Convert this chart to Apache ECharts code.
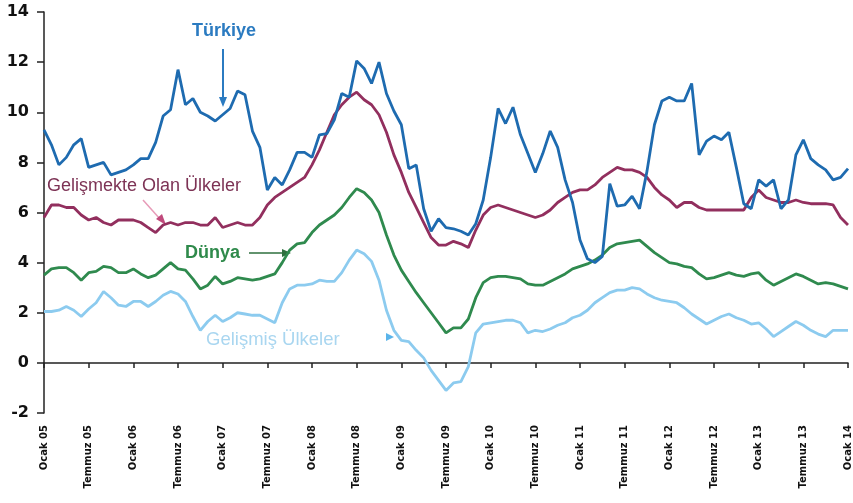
<!DOCTYPE html>
<html lang="tr">

<head>
  <meta charset="UTF-8">
  <title>Enflasyon</title>
  <script src="https://cdn.jsdelivr.net/npm/echarts@6/dist/echarts.min.js"></script>
  <style>
    * {
      padding: 0;
      margin: 0;
    }

    #box {
      width: 853px;
      height: 503px;
      background: #fff;
    }
  </style>
</head>

<body>
  <div id="box"></div>
  <script>
    // aylik veriler, Ocak 05 - Ocak 14
    var turkiye = [
      9.3, 8.7, 7.9, 8.2, 8.7, 8.95, 7.8, 7.9, 8.0, 7.5, 7.6, 7.7,
      7.9, 8.15, 8.15, 8.8, 9.85, 10.1, 11.7, 10.3, 10.55, 10.0, 9.85, 9.65,
      9.9, 10.15, 10.85, 10.7, 9.25, 8.6, 6.9, 7.4, 7.1, 7.7, 8.4, 8.4,
      8.2, 9.1, 9.15, 9.7, 10.75, 10.6, 12.05, 11.75, 11.15, 12.0, 10.75, 10.05,
      9.5, 7.75, 7.9, 6.15, 5.25, 5.75, 5.4, 5.35, 5.25, 5.1, 5.55, 6.5,
      8.2, 10.15, 9.55, 10.2, 9.1, 8.35, 7.6, 8.35, 9.25, 8.6, 7.3, 6.4,
      4.9, 4.15, 4.0, 4.25, 7.15, 6.25, 6.3, 6.65, 6.15, 7.65, 9.5, 10.45,
      10.6, 10.45, 10.45, 11.15, 8.3, 8.85, 9.05, 8.9, 9.2, 7.8, 6.35, 6.15,
      7.3, 7.05, 7.3, 6.15, 6.5, 8.3, 8.9, 8.15, 7.9, 7.7, 7.3, 7.4,
      7.75
    ]
    var gelismekte = [
      5.8, 6.3, 6.3, 6.2, 6.2, 5.9, 5.7, 5.8, 5.6, 5.5, 5.7, 5.7,
      5.7, 5.6, 5.4, 5.2, 5.5, 5.6, 5.5, 5.6, 5.6, 5.5, 5.5, 5.8,
      5.4, 5.5, 5.6, 5.5, 5.5, 5.8, 6.3, 6.6, 6.8, 7.0, 7.2, 7.4,
      7.9, 8.5, 9.2, 9.9, 10.3, 10.6, 10.8, 10.5, 10.3, 9.9, 9.2, 8.3,
      7.6, 6.8, 6.2, 5.6, 5.0, 4.7, 4.7, 4.85, 4.75, 4.6, 5.3, 5.9,
      6.2, 6.3, 6.2, 6.1, 6.0, 5.9, 5.8, 5.9, 6.1, 6.4, 6.6, 6.8,
      6.9, 6.9, 7.1, 7.4, 7.6, 7.8, 7.7, 7.7, 7.6, 7.4, 7.0, 6.7,
      6.5, 6.2, 6.4, 6.4, 6.2, 6.1, 6.1, 6.1, 6.1, 6.1, 6.1, 6.6,
      6.9, 6.6, 6.5, 6.4, 6.4, 6.5, 6.4, 6.35, 6.35, 6.35, 6.3, 5.8,
      5.5
    ]
    var dunya = [
      3.5, 3.75, 3.8, 3.8, 3.6, 3.3, 3.6, 3.65, 3.85, 3.8, 3.6, 3.6,
      3.75, 3.55, 3.4, 3.5, 3.75, 4.0, 3.75, 3.7, 3.35, 2.95, 3.1, 3.45,
      3.15, 3.25, 3.4, 3.35, 3.3, 3.35, 3.45, 3.55, 4.0, 4.5, 4.75, 4.8,
      5.2, 5.5, 5.7, 5.9, 6.2, 6.6, 6.95, 6.8, 6.5, 6.0, 5.1, 4.3,
      3.7, 3.25, 2.8, 2.4, 2.0, 1.6, 1.2, 1.4, 1.4, 1.75, 2.6, 3.2,
      3.4, 3.45, 3.45, 3.4, 3.35, 3.15, 3.1, 3.1, 3.25, 3.4, 3.55, 3.75,
      3.85, 3.95, 4.1, 4.3, 4.6, 4.75, 4.8, 4.85, 4.9, 4.65, 4.4, 4.2,
      4.0, 3.95, 3.85, 3.8, 3.55, 3.35, 3.4, 3.5, 3.6, 3.5, 3.45, 3.55,
      3.6, 3.3, 3.1, 3.25, 3.4, 3.55, 3.45, 3.3, 3.15, 3.2, 3.15, 3.05,
      2.95
    ]
    var gelismis = [
      2.05, 2.05, 2.1, 2.25, 2.1, 1.85, 2.15, 2.4, 2.85, 2.6, 2.3, 2.25,
      2.45, 2.45, 2.25, 2.45, 2.7, 2.85, 2.75, 2.45, 1.85, 1.3, 1.65, 1.9,
      1.65, 1.8, 2.0, 1.95, 1.9, 1.9, 1.75, 1.6, 2.4, 2.95, 3.1, 3.1,
      3.15, 3.3, 3.25, 3.25, 3.6, 4.1, 4.5, 4.35, 4.05, 3.3, 2.1, 1.3,
      0.9, 0.85, 0.5, 0.2, -0.3, -0.7, -1.1, -0.8, -0.75, -0.15, 1.2, 1.55,
      1.6, 1.65, 1.7, 1.7, 1.6, 1.2, 1.3, 1.25, 1.35, 1.5, 1.6, 1.8,
      1.9, 2.1, 2.4, 2.6, 2.8, 2.9, 2.9, 3.0, 2.95, 2.75, 2.6, 2.5,
      2.45, 2.4, 2.2, 1.95, 1.75, 1.55, 1.7, 1.85, 1.95, 1.8, 1.7, 1.55,
      1.6, 1.35, 1.05, 1.25, 1.45, 1.65, 1.5, 1.3, 1.15, 1.05, 1.3, 1.3,
      1.3
    ]

    // ay etiketleri: sadece Ocak ve Temmuz yazilir
    var aylar = []
    for (let i = 0; i < turkiye.length; i++) {
      let yil = String(5 + Math.floor(i / 12)).padStart(2, '0')
      let ay = i % 12
      aylar.push(ay === 0 ? 'Ocak ' + yil : (ay === 6 ? 'Temmuz ' + yil : ''))
    }

    var renkler = {
      turkiye: '#1e6bb0',
      gelismekte: '#922f5e',
      dunya: '#2f8a4e',
      gelismis: '#8ccbef'
    }

    var mCharts = echarts.init(document.getElementById('box'))

    var every6 = function (i) { return i % 6 === 0 }

    var option = {
      backgroundColor: '#fff',
      animation: false,
      grid: {
        left: 44,
        right: 2,
        top: 12,
        bottom: 90
      },
      xAxis: [{
        type: 'category',
        data: aylar,
        boundaryGap: false,
        position: 'bottom',
        axisLine: { show: false, onZero: false },
        axisTick: { show: false },
        axisLabel: {
          interval: every6,
          rotate: 90,
          margin: 12,
          color: '#111',
          fontFamily: 'DejaVu Sans',
          fontWeight: 'bold',
          fontSize: 10
        },
        splitLine: { show: false }
      }, {
        type: 'category',
        data: aylar,
        boundaryGap: false,
        position: 'bottom',
        axisLine: { show: true, onZero: true, lineStyle: { color: '#222', width: 1.5 } },
        axisTick: { show: true, interval: every6, length: 5, lineStyle: { color: '#222', width: 1.5 } },
        axisLabel: { show: false },
        splitLine: { show: false }
      }],
      yAxis: {
        type: 'value',
        min: -2,
        max: 14,
        interval: 2,
        axisLine: { show: true, lineStyle: { color: '#222', width: 1.5 } },
        axisTick: { show: true, length: 7, lineStyle: { color: '#222', width: 1.5 } },
        axisLabel: {
          margin: 15,
          color: '#111',
          fontFamily: 'DejaVu Sans',
          fontWeight: 'bold',
          fontSize: 16
        },
        splitLine: { show: false }
      },
      series: [{
        name: 'Gelişmiş Ülkeler',
        type: 'line',
        data: gelismis,
        symbol: 'none',
        lineStyle: { color: renkler.gelismis, width: 2.8 }
      }, {
        name: 'Dünya',
        type: 'line',
        data: dunya,
        symbol: 'none',
        lineStyle: { color: renkler.dunya, width: 2.8 }
      }, {
        name: 'Gelişmekte Olan Ülkeler',
        type: 'line',
        data: gelismekte,
        symbol: 'none',
        lineStyle: { color: renkler.gelismekte, width: 2.8 }
      }, {
        name: 'Türkiye',
        type: 'line',
        data: turkiye,
        symbol: 'none',
        lineStyle: { color: renkler.turkiye, width: 2.8 }
      }],
      graphic: [
        // Türkiye
        { type: 'text', left: 192, top: 22, style: { text: 'Türkiye', fill: '#2b7bc1', font: 'bold 18px "Liberation Sans", Arial' } },
        { type: 'line', shape: { x1: 223, y1: 49, x2: 223, y2: 100 }, style: { stroke: '#2b7bc1', lineWidth: 2 } },
        { type: 'polygon', shape: { points: [[219, 97], [227, 97], [223, 107]] }, style: { fill: '#2b7bc1' } },
        // Gelismekte
        { type: 'text', left: 47, top: 177, style: { text: 'Gelişmekte Olan Ülkeler', fill: '#7d3355', font: '18px "Liberation Sans", Arial' } },
        { type: 'line', shape: { x1: 143, y1: 200, x2: 160, y2: 219 }, style: { stroke: '#e79bb8', lineWidth: 1.5 } },
        { type: 'polygon', shape: { points: [[156, 219], [162, 214], [166, 225]] }, style: { fill: '#c04a7c' } },
        // Dünya
        { type: 'text', left: 185, top: 244, style: { text: 'Dünya', fill: '#2f8a4b', font: 'bold 18px "Liberation Sans", Arial' } },
        { type: 'line', shape: { x1: 249, y1: 253, x2: 284, y2: 253 }, style: { stroke: '#2e6f3e', lineWidth: 1.5 } },
        { type: 'polygon', shape: { points: [[282, 249], [282, 257], [291, 253]] }, style: { fill: '#2e6f3e' } },
        // Gelismis
        { type: 'text', left: 206, top: 330, style: { text: 'Gelişmiş Ülkeler', fill: '#a9d6f0', font: '18.5px "Liberation Sans", Arial' } },
        { type: 'polygon', shape: { points: [[386, 333], [386, 341], [394, 337]] }, style: { fill: '#5ab4ea' } }
      ]
    }
    mCharts.setOption(option)
  </script>
</body>

</html>
